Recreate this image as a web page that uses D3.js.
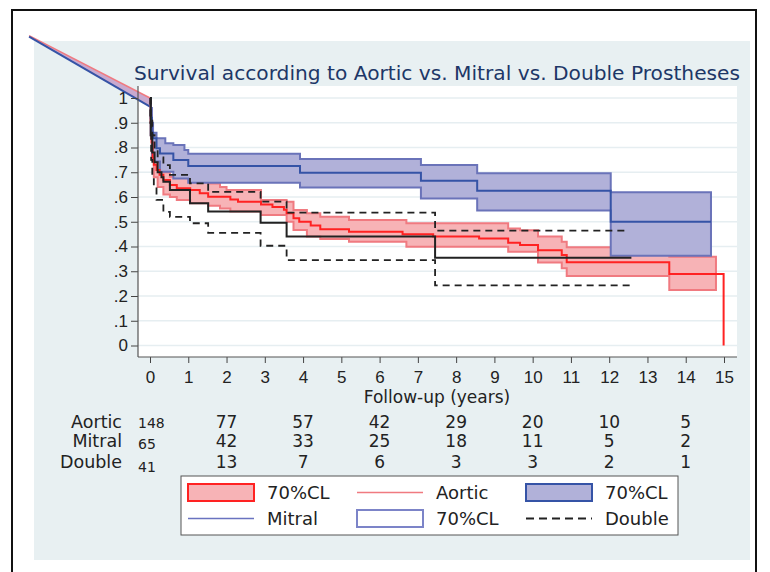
<!DOCTYPE html>
<html>
<head>
<meta charset="utf-8">
<script src="https://cdn.jsdelivr.net/npm/d3@7"></script>
<style>
  body { margin: 0; background: #fff; }
  svg { display: block; font-family: "DejaVu Sans", Verdana, sans-serif; }
</style>
</head>
<body>
<script>
// Kaplan-Meier estimates (time in years, survival)

const aorticTime = [0, 0.02, 0.04, 0.07, 0.1, 0.17, 0.25, 0.35, 0.52, 0.7, 1.05, 1.3, 1.52, 2.1, 2.3, 2.9, 3.2, 3.5, 3.57, 3.75, 3.9, 4.2, 4.45, 5.2, 6.6, 7.4, 8.6, 9.36, 9.67, 10.14, 10.76, 10.89, 13.57, 14.99]
const aorticSurv = [1, 0.9, 0.82, 0.76, 0.73, 0.709, 0.69, 0.669, 0.648, 0.635, 0.628, 0.615, 0.601, 0.59, 0.581, 0.57, 0.56, 0.548, 0.534, 0.514, 0.5, 0.485, 0.47, 0.46, 0.45, 0.44, 0.432, 0.415, 0.406, 0.385, 0.366, 0.336, 0.289, 0]

const aorticBandTime = [0, 0.02, 0.05, 0.1, 0.2, 0.35, 0.52, 0.7, 1.05, 1.52, 1.83, 2.0, 2.1, 2.9, 3.57, 3.75, 4.1, 4.45, 5.2, 6.7, 9.36, 9.67, 10.14, 10.76, 10.89, 13.57, 14.79]
const aorticUpper = [1, 0.93, 0.84, 0.78, 0.74, 0.7, 0.682, 0.682, 0.669, 0.655, 0.64, 0.628, 0.628, 0.588, 0.581, 0.547, 0.534, 0.52, 0.507, 0.494, 0.473, 0.466, 0.44, 0.419, 0.397, 0.359, 0.359]
const aorticLower = [1, 0.85, 0.75, 0.68, 0.64, 0.61, 0.6, 0.588, 0.575, 0.565, 0.554, 0.554, 0.541, 0.527, 0.5, 0.467, 0.44, 0.43, 0.419, 0.399, 0.379, 0.379, 0.335, 0.312, 0.281, 0.224, 0.224]

const mitralTime = [0, 0.02, 0.05, 0.08, 0.17, 0.26, 0.61, 1.0, 3.92, 7.08, 8.55, 12.04, 14.66]
const mitralSurv = [1, 0.92, 0.86, 0.837, 0.797, 0.776, 0.749, 0.725, 0.698, 0.666, 0.625, 0.5, 0.5]

const mitralBandTime = [0, 0.02, 0.05, 0.08, 0.1, 0.17, 0.26, 0.4, 0.61, 0.9, 1.0, 3.92, 7.08, 8.55, 12.04, 14.66]
const mitralUpper = [1, 0.96, 0.9, 0.86, 0.86, 0.837, 0.837, 0.817, 0.81, 0.79, 0.775, 0.754, 0.729, 0.696, 0.619, 0.619]
const mitralLower = [1, 0.85, 0.77, 0.77, 0.743, 0.743, 0.702, 0.702, 0.675, 0.675, 0.658, 0.638, 0.594, 0.545, 0.363, 0.363]

const doubleTime = [0, 0.02, 0.06, 0.12, 0.2, 0.3, 0.35, 0.52, 1.045, 1.52, 2.89, 3.57, 7.45, 12.58]
const doubleSurv = [1, 0.85, 0.78, 0.74, 0.7, 0.68, 0.662, 0.628, 0.575, 0.541, 0.496, 0.44, 0.355, 0.355]

const doubleUpperTime = [0, 0.02, 0.06, 0.12, 0.2, 0.35, 0.52, 1.045, 1.52, 2.89, 3.57, 7.45, 12.47]
const doubleUpper = [1, 0.92, 0.85, 0.8, 0.76, 0.729, 0.689, 0.655, 0.621, 0.581, 0.537, 0.464, 0.464]
const doubleLowerTime = [0, 0.01, 0.03, 0.06, 0.1, 0.17, 0.35, 0.52, 1.045, 1.52, 2.89, 3.57, 7.45, 12.63]
const doubleLower = [1, 0.9, 0.75, 0.68, 0.64, 0.588, 0.54, 0.52, 0.494, 0.455, 0.403, 0.345, 0.243, 0.243]

// the stray segment that runs in from the top left corner
const leadTime = [-3.16, 0]
const leadUpper = [1.252, 1.0]
const leadLower = [1.248, 0.965]

// axes and number-at-risk table
const xTicks = d3.range(0, 16)
const yTicks = [0, 0.1, 0.2, 0.3, 0.4, 0.5, 0.6, 0.7, 0.8, 0.9, 1]
const yTickLabels = ["0", ".1", ".2", ".3", ".4", ".5", ".6", ".7", ".8", ".9", "1"]
const riskTimes = [0, 2, 4, 6, 8, 10, 12, 14]
const riskGroups = ["Aortic", "Mitral", "Double"]
const aorticRisk = [148, 77, 57, 42, 29, 20, 10, 5]
const mitralRisk = [65, 42, 33, 25, 18, 11, 5, 2]
const doubleRisk = [41, 13, 7, 6, 3, 3, 2, 1]

const width = 770
const height = 572

const red = "#ff2222"
const redFill = "#f7b3b6"
const redEdge = "#f07a80"
const blueFill = "#b1b1d9"
const blueEdge = "#6a73b9"
const blue = "#3553a6"
const ink = "#222"

const svg = d3.select("body").append("svg")
  .attr("width", width)
  .attr("height", height)

// page, outer frame and light backdrop
svg.append("rect").attr("width", width).attr("height", height).attr("fill", "#fff")
svg.append("rect")
  .attr("x", 34).attr("y", 41).attr("width", 716).attr("height", 519)
  .attr("fill", "#e8f0f2")
svg.append("rect")
  .attr("x", 12).attr("y", 10).attr("width", 744).attr("height", 580)
  .attr("fill", "none").attr("stroke", "#111").attr("stroke-width", 2)

// plot region
const plot = { left: 138, right: 737, top: 86, bottom: 357 }
svg.append("rect")
  .attr("x", plot.left).attr("y", plot.top)
  .attr("width", plot.right - plot.left).attr("height", plot.bottom - plot.top)
  .attr("fill", "#fff")

const x = d3.scaleLinear().domain([0, 15]).range([150, 724])
const y = d3.scaleLinear().domain([0, 1]).range([345.5, 98])

// grid
svg.append("g")
  .selectAll("line")
  .data(yTicks)
  .join("line")
  .attr("x1", plot.left).attr("x2", plot.right)
  .attr("y1", d => y(d)).attr("y2", d => y(d))
  .attr("stroke", "#e6eef1").attr("stroke-width", 1.5)

// title
svg.append("text")
  .attr("x", 437).attr("y", 80)
  .attr("text-anchor", "middle")
  .attr("fill", "#1d3767")
  .attr("textLength", 606)
  .attr("lengthAdjust", "spacingAndGlyphs")
  .style("font-size", "19.5px")
  .text("Survival according to Aortic vs. Mitral vs. Double Prostheses")

// helpers
const pts = (ts, vs) => ts.map((t, i) => [t, vs[i]])
const stepLine = d3.line().x(d => x(d[0])).y(d => y(d[1])).curve(d3.curveStepAfter)
const bandArea = d3.area()
  .x(d => x(d[0])).y0(d => y(d[1])).y1(d => y(d[2]))
  .curve(d3.curveStepAfter)
const band = (ts, lo, hi) => ts.map((t, i) => [t, lo[i], hi[i]])

// lead-in segment
const lead = leadTime.map((t, i) => [t, leadLower[i], leadUpper[i]])
svg.append("path")
  .attr("d", d3.area().x(d => x(d[0])).y0(d => y(d[1])).y1(d => y(d[2]))(lead))
  .attr("fill", "#c8a9cf")
svg.append("path")
  .attr("d", d3.line().x(d => x(d[0])).y(d => y(d[1]))(pts(leadTime, leadUpper)))
  .attr("fill", "none").attr("stroke", redEdge).attr("stroke-width", 1.5)
svg.append("path")
  .attr("d", d3.line().x(d => x(d[0])).y(d => y(d[1]))(pts(leadTime, leadLower)))
  .attr("fill", "none").attr("stroke", blue).attr("stroke-width", 2)

// confidence bands
svg.append("path")
  .attr("d", bandArea(band(aorticBandTime, aorticLower, aorticUpper)))
  .attr("fill", redFill).attr("stroke", redEdge).attr("stroke-width", 2)

svg.append("path")
  .attr("d", bandArea(band(mitralBandTime, mitralLower, mitralUpper)))
  .attr("fill", blueFill).attr("stroke", blueEdge).attr("stroke-width", 2)

// survival curves
svg.append("path")
  .attr("d", stepLine(pts(aorticTime, aorticSurv)))
  .attr("fill", "none").attr("stroke", red).attr("stroke-width", 2)

svg.append("path")
  .attr("d", stepLine(pts(mitralTime, mitralSurv)))
  .attr("fill", "none").attr("stroke", blue).attr("stroke-width", 2)

svg.append("path")
  .attr("d", stepLine(pts(doubleUpperTime, doubleUpper)))
  .attr("fill", "none").attr("stroke", ink).attr("stroke-width", 1.8)
  .attr("stroke-dasharray", "7,5")
svg.append("path")
  .attr("d", stepLine(pts(doubleLowerTime, doubleLower)))
  .attr("fill", "none").attr("stroke", ink).attr("stroke-width", 1.8)
  .attr("stroke-dasharray", "7,5")
svg.append("path")
  .attr("d", stepLine(pts(doubleTime, doubleSurv)))
  .attr("fill", "none").attr("stroke", ink).attr("stroke-width", 2)

// axes
const axisX = svg.append("g")
  .attr("transform", `translate(0, ${plot.bottom})`)
  .call(d3.axisBottom(x).tickValues(xTicks).tickSize(6).tickPadding(8))
axisX.select(".domain").remove()
axisX.selectAll("line").attr("stroke", "#444")
axisX.selectAll("text").style("font-size", "17px").attr("fill", ink)

const axisY = svg.append("g")
  .attr("transform", `translate(${plot.left}, 0)`)
  .call(d3.axisLeft(y).tickValues(yTicks).tickSize(7).tickPadding(3)
    .tickFormat((d, i) => yTickLabels[i]))
axisY.select(".domain").remove()
axisY.selectAll("line").attr("stroke", "#444")
axisY.selectAll("text").style("font-size", "17px").attr("fill", ink)

svg.append("line")
  .attr("x1", plot.left).attr("x2", plot.left)
  .attr("y1", plot.top).attr("y2", plot.bottom)
  .attr("stroke", "#555").attr("stroke-width", 1.2)
svg.append("line")
  .attr("x1", plot.left).attr("x2", plot.right)
  .attr("y1", plot.bottom).attr("y2", plot.bottom)
  .attr("stroke", "#555").attr("stroke-width", 1.2)

svg.append("text")
  .attr("x", 437).attr("y", 403)
  .attr("text-anchor", "middle")
  .attr("fill", ink)
  .style("font-size", "17px")
  .text("Follow-up (years)")

// number at risk
const riskRows = [aorticRisk, mitralRisk, doubleRisk]
const rowY = [428, 447, 468]

riskGroups.forEach((name, r) => {
  svg.append("text")
    .attr("x", 122).attr("y", rowY[r])
    .attr("text-anchor", "end")
    .attr("fill", ink)
    .style("font-size", "17.5px")
    .text(name)

  svg.append("g")
    .selectAll("text")
    .data(riskRows[r])
    .join("text")
    .attr("x", (d, i) => i === 0 ? 138 : x(riskTimes[i]))
    .attr("y", (d, i) => i === 0 ? rowY[r] + r * 2 : rowY[r])
    .attr("text-anchor", (d, i) => i === 0 ? "start" : "middle")
    .attr("fill", ink)
    .style("font-size", (d, i) => i === 0 ? "14px" : "17px")
    .text(d => d)
})

// legend
const legend = svg.append("g")
legend.append("rect")
  .attr("x", 181).attr("y", 476).attr("width", 497).attr("height", 59)
  .attr("fill", "#fff").attr("stroke", "#555").attr("stroke-width", 1)

const colX = [188, 357, 526]
const rowTop = [484, 510]
const sw = 66
const sh = 17

const addLabel = (c, r, label) => legend.append("text")
  .attr("x", colX[c] + 79).attr("y", rowTop[r] + 15)
  .attr("fill", ink)
  .style("font-size", "18px")
  .text(label)

const addBox = (c, r, fill, stroke) => legend.append("rect")
  .attr("x", colX[c]).attr("y", rowTop[r]).attr("width", sw).attr("height", sh)
  .attr("fill", fill).attr("stroke", stroke).attr("stroke-width", 2)

const addLine = (c, r, stroke, dash) => legend.append("line")
  .attr("x1", colX[c]).attr("x2", colX[c] + sw)
  .attr("y1", rowTop[r] + sh / 2).attr("y2", rowTop[r] + sh / 2)
  .attr("stroke", stroke).attr("stroke-width", dash ? 1.8 : 1.5)
  .attr("stroke-dasharray", dash || null)

addBox(0, 0, redFill, red)
addLabel(0, 0, "70%CL")
addLine(1, 0, "#f07a80")
addLabel(1, 0, "Aortic")
addBox(2, 0, blueFill, "#3553a6")
addLabel(2, 0, "70%CL")
addLine(0, 1, "#6a73c0")
addLabel(0, 1, "Mitral")
addBox(1, 1, "#fff", "#7c84c8")
addLabel(1, 1, "70%CL")
addLine(2, 1, ink, "8,5")
addLabel(2, 1, "Double")
</script>
</body>
</html>
